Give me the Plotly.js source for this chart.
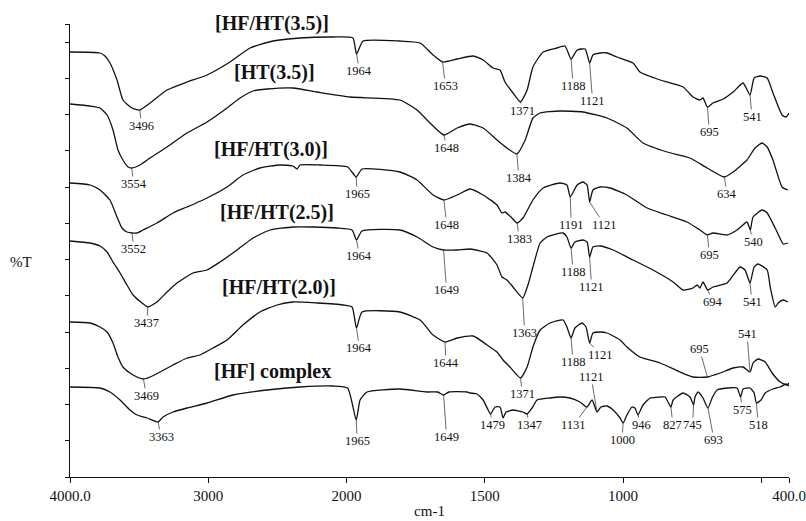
<!DOCTYPE html>
<html><head><meta charset="utf-8">
<script src="https://cdn.plot.ly/plotly-3.0.1.min.js"></script>
<style>html,body{margin:0;padding:0;background:#fff}#chart{width:806px;height:521px}</style>
</head><body><div id="chart"></div>
<script>
// ---- data: wavenumber (cm-1) and transmittance (arbitrary, offset stacked) ----
var seriesNames = ['[HF/HT(3.5)]', '[HT(3.5)]', '[HF/HT(3.0)]', '[HF/HT(2.5)]', '[HF/HT(2.0)]', '[HF] complex'];

var s1W = [4000,3783,3747,3711,3660,3617,3552,3496,3421,3298,3154,3009,2843,2698,2532,2336,2098,1977,1964,1940,1807,1734,1687,1653,1600,1542,1506,1470,1445,1427,1398,1371,1347,1326,1289,1239,1210,1188,1166,1137,1121,1109,1083,1058,1022,964,939,866,783,747,722,711,695,675,638,602,566,541,526,504,479,458,425,411,400];
var s1T = [425,424,421,414,397,377,369,367,374,387,395,402,415,429,436,439,440,439,423,436,436,434,422,415,418,421,417,409,407,395,384,375,387,410,425,429,431,418,427,428,414,422,424,424,420,414,405,397,390,380,377,379,370,374,378,385,394,382,399,401,399,384,362,360,364];

var s2W = [4000,3855,3783,3732,3689,3653,3617,3580,3554,3494,3421,3298,3154,3009,2864,2770,2676,2575,2387,2213,1987,1807,1745,1698,1648,1600,1553,1506,1456,1420,1384,1354,1326,1300,1228,1145,1058,986,928,841,758,696,634,602,552,523,497,479,458,425,404];
var s2T = [373,371,369,362,347,327,317,310,309,312,319,330,344,355,369,379,386,388,389,385,380,377,367,354,342,349,353,349,337,329,323,337,359,364,366,365,359,349,334,325,319,309,300,305,317,329,334,330,317,290,287];

var s3W = [4000,3855,3783,3711,3660,3624,3588,3552,3515,3472,3371,3255,3154,3009,2864,2749,2626,2481,2387,2358,2336,2192,1996,1965,1944,1807,1745,1687,1648,1600,1553,1506,1456,1438,1427,1402,1383,1362,1326,1289,1228,1203,1191,1166,1145,1130,1121,1109,1083,1047,986,913,841,769,722,695,675,624,588,552,540,530,497,479,443,421,404];
var s3T = [294,292,287,277,260,249,245,244,244,247,254,264,270,279,290,302,309,312,311,308,312,312,310,300,308,305,297,282,277,282,288,282,272,264,265,259,254,259,277,289,294,292,280,292,295,292,275,287,290,289,282,269,262,255,247,242,244,242,247,255,247,260,267,264,245,233,234];

var s4W = [4000,3855,3783,3732,3689,3638,3588,3544,3479,3437,3371,3298,3226,3110,3009,2915,2792,2676,2553,2387,2242,2069,1980,1964,1944,1807,1745,1687,1649,1600,1553,1492,1456,1438,1420,1398,1363,1344,1326,1300,1275,1217,1203,1188,1174,1145,1130,1121,1109,1083,1036,964,892,819,783,747,732,722,711,694,675,624,577,559,541,526,512,479,468,450,439,421,404];
var s4T = [236,234,231,225,215,204,192,182,174,170,175,185,194,204,207,215,227,239,247,250,250,249,247,237,246,247,240,230,227,227,228,224,212,200,197,190,179,192,210,234,240,244,240,229,235,237,235,220,230,231,227,217,207,195,187,189,192,189,195,187,190,194,210,207,194,210,213,207,190,170,174,177,175];

var s5W = [4000,3855,3783,3732,3689,3653,3617,3566,3515,3469,3421,3349,3255,3154,3060,2966,2864,2749,2626,2503,2387,2213,2025,1980,1964,1944,1807,1734,1687,1644,1600,1542,1492,1456,1434,1409,1371,1347,1326,1300,1264,1217,1203,1188,1174,1148,1134,1121,1109,1083,1058,1011,986,939,866,794,747,695,649,602,566,541,530,512,486,461,432,407,400];
var s5T = [155,154,150,145,134,120,110,104,100,98,100,105,112,119,122,129,137,152,165,172,175,174,172,170,149,165,165,157,142,135,139,141,132,125,117,110,99,110,130,147,154,157,150,139,149,154,150,134,144,145,144,137,130,120,114,105,100,100,104,109,110,105,114,118,115,104,95,92,94];

var s6W = [4000,3783,3711,3638,3566,3515,3443,3363,3327,3255,3154,3009,2821,2575,2336,2098,1996,1965,1951,1926,1807,1709,1670,1649,1630,1564,1553,1528,1506,1488,1479,1463,1445,1434,1423,1398,1362,1347,1329,1311,1264,1228,1192,1156,1131,1112,1094,1080,1058,1036,1011,1000,986,968,957,946,928,902,866,848,827,819,783,758,745,740,729,711,693,678,660,624,588,575,566,541,526,518,501,486,458,432,411,400];
var s6T = [90,89,85,77,67,62,59,55,60,65,69,74,82,87,90,91,89,57,77,85,88,85,85,82,85,85,84,83,77,67,63,70,70,59,65,67,65,63,69,77,79,80,79,75,70,77,65,70,71,67,59,54,62,70,69,62,72,79,80,80,70,77,84,80,72,80,85,79,69,79,87,89,89,80,88,89,84,74,77,84,88,90,93,91];

// peak labels (label value) and where on the curve the leader touches
var s1Peaks = [3496,1964,1653,1371,1188,1121,695,541];
var s2Peaks = [3554,1648,1384,634];
var s3Peaks = [3552,1965,1648,1383,1191,1121,695,540];
var s4Peaks = [3437,1964,1649,1363,1188,1121,694,541];
var s5Peaks = [3469,1964,1644,1371,1188,1121,695,541];
var s6Peaks = [3363,1965,1649,1479,1347,1131,1121,1000,946,827,745,693,575,518];
var s6PeakAt = [3363,1965,1649,1479,1347,1131,1094,1000,946,827,745,693,575,518];

// axis ticks
var xTickWn = [4000,3000,2000,1500,1000,500,400];
var xTickText = ['4000.0','3000','2000','1500','1000','','400.0'];

// ---- layout (pixel offsets of labels relative to the curve point) ----
var s1Off = [[2,16],[3,17],[3,24],[2,9],[2,27],[3,38],[2,25],[2,22]];
var s2Off = [[2,16],[3,13],[2,24],[3,17]];
var s3Off = [[2,16],[1,17],[3,25],[2,16],[1,28],[15,23],[2,20],[3,12]];
var s4Off = [[-1,16],[3,16],[3,40],[2,35],[2,24],[2,30],[5,12],[2,19]];
var s5Off = [[3,17],[3,20],[1,21],[2,16],[2,24],[11,12],[-8,-28],[-3,-38]];
var s6Off = [[3,15],[1,21],[3,42],[2,11],[2,11],[-13,18],[-6,-35],[-1,17],[3,10],[2,18],[-1,20],[6,32],[2,13],[2,22]];
var titlePos = [[0.281,1.002],[0.285,0.892],[0.280,0.724],[0.288,0.583],[0.291,0.419],[0.282,0.232]];

// split-scale wavenumber axis: 4000-2000 compressed 2x relative to 2000-400
function toU(w){ return w >= 2000 ? (4000 - w) / 2 : 3000 - w; }
function interp(W, T, w){
  var u = toU(w);
  for (var i = 0; i < W.length - 1; i++){
    var u0 = toU(W[i]), u1 = toU(W[i+1]);
    if (u >= u0 && u <= u1){ var f = (u1 === u0) ? 0 : (u - u0) / (u1 - u0); return T[i] + f * (T[i+1] - T[i]); }
  }
  return T[T.length - 1];
}

var serif = 'Liberation Serif, Times New Roman, serif';
var allW = [s1W,s2W,s3W,s4W,s5W,s6W];
var allT = [s1T,s2T,s3T,s4T,s5T,s6T];
var allPeaks = [s1Peaks,s2Peaks,s3Peaks,s4Peaks,s5Peaks,s6Peaks];
var allAt = [s1Peaks,s2Peaks,s3Peaks,s4Peaks,s5Peaks,s6PeakAt];
var allOff = [s1Off,s2Off,s3Off,s4Off,s5Off,s6Off];

var traces = [];
var annotations = [];
for (var k = 0; k < 6; k++){
  traces.push({
    x: allW[k].map(toU), y: allT[k], customdata: allW[k], name: seriesNames[k],
    type: 'scatter', mode: 'lines', line: {color: '#111', width: 1.3, shape: 'spline', smoothing: 0.5},
    hovertemplate: '%{customdata} cm-1<extra>' + seriesNames[k] + '</extra>'
  });
  annotations.push({
    xref: 'paper', yref: 'paper', x: titlePos[k][0], y: titlePos[k][1],
    text: '<b>' + seriesNames[k] + '</b>', showarrow: false,
    xanchor: 'center', yanchor: 'middle',
    font: {family: serif, size: 20, color: '#111'}
  });
  for (var j = 0; j < allPeaks[k].length; j++){
    var at = allAt[k][j];
    annotations.push({
      x: toU(at), y: interp(allW[k], allT[k], at),
      text: String(allPeaks[k][j]), showarrow: true, arrowhead: 0,
      arrowwidth: 0.8, arrowcolor: '#444', standoff: 0,
      ax: allOff[k][j][0], ay: allOff[k][j][1], borderpad: 0,
      font: {family: serif, size: 12.5, color: '#111'}
    });
  }
}
annotations.push({
  xref: 'paper', yref: 'paper', x: -0.068, y: 0.475, text: '%T', showarrow: false,
  xanchor: 'center', yanchor: 'middle', font: {family: serif, size: 15, color: '#111'}
});

var yTicks = [];
for (var t = 0; t <= 435.1; t += 36.25) yTicks.push(t);
yTicks.push(453);

var layout = {
  width: 806, height: 521,
  margin: {l: 70, r: 17, t: 24, b: 44},
  paper_bgcolor: '#fff', plot_bgcolor: '#fff',
  showlegend: false,
  font: {family: serif, color: '#111'},
  xaxis: {
    range: [0, 2600], showgrid: false, zeroline: false,
    showline: true, linecolor: '#111', linewidth: 1,
    ticks: 'outside', ticklen: 5, tickcolor: '#111',
    tickmode: 'array', tickvals: xTickWn.map(toU), ticktext: xTickText,
    tickfont: {family: serif, size: 15, color: '#111'},
    title: {text: 'cm-1', font: {family: serif, size: 15, color: '#111'}, standoff: 2}
  },
  yaxis: {
    range: [0, 453], showgrid: false, zeroline: false,
    showline: true, linecolor: '#111', linewidth: 1,
    ticks: 'outside', ticklen: 4, tickcolor: '#111',
    tickmode: 'array', tickvals: yTicks, showticklabels: false
  },
  annotations: annotations
};

Plotly.newPlot('chart', traces, layout, {displayModeBar: false});
</script>
</body></html>
